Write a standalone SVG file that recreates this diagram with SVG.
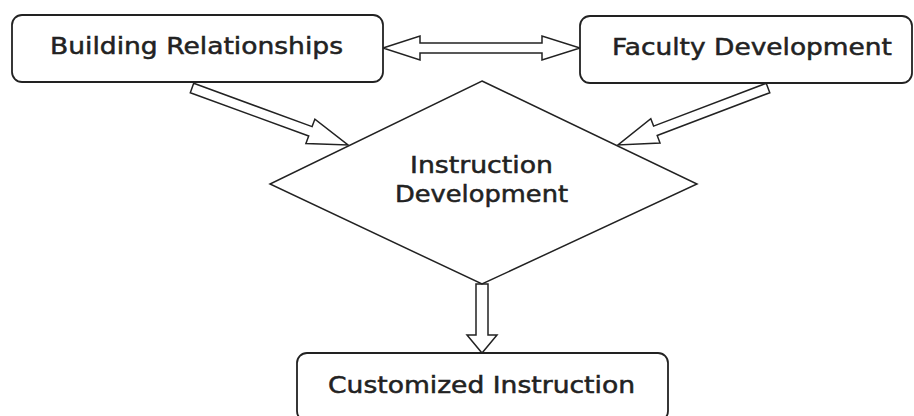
<svg xmlns="http://www.w3.org/2000/svg" width="914" height="416" viewBox="0 0 914 416">
<style>
.box{fill:#fff;stroke:#222;stroke-width:1.8}
.arr{fill:#fff;stroke:#222;stroke-width:1.5;stroke-linejoin:miter}
.lbl{font-family:"DejaVu Sans","Verdana",sans-serif;font-size:23px;fill:#222;stroke:#222;stroke-width:0.5;text-anchor:middle}
</style>
<rect width="914" height="416" fill="#fff"/>
<g id="connectors">
<polygon class="arr" points="383,48 420,36 420,43 542,43 542,36 580,48 542,60 542,53 420,53 420,60"/>
<polygon class="arr" points="193.7,83.3 312.1,126.6 314.9,119.1 348,145 305.9,143.5 308.7,136 190.3,92.7"/>
<polygon class="arr" points="766.2,83.3 653.6,126.1 650.8,118.7 618,145 660,143 657.2,135.5 769.8,92.7"/>
<polygon class="arr" points="476,284 488,284 488,335 497,335 482,353 467,335 476,335"/>
</g>
<g id="building-relationships">
<rect class="box" x="12" y="15" width="371" height="67" rx="10"/>
<text class="lbl" x="196.5" y="54" textLength="293" lengthAdjust="spacingAndGlyphs">Building Relationships</text>
</g>
<g id="faculty-development">
<rect class="box" x="580" y="16" width="332" height="67" rx="10"/>
<text class="lbl" x="752" y="55" textLength="280" lengthAdjust="spacingAndGlyphs">Faculty Development</text>
</g>
<g id="instruction-development">
<polygon class="arr" points="482,81 697,184 482,284 270,184"/>
<text class="lbl" x="481.5" y="173" textLength="143" lengthAdjust="spacingAndGlyphs">Instruction</text>
<text class="lbl" x="481.5" y="202" textLength="173" lengthAdjust="spacingAndGlyphs">Development</text>
</g>
<g id="customized-instruction">
<rect class="box" x="297" y="353" width="371" height="68" rx="10"/>
<text class="lbl" x="481.5" y="393" textLength="307" lengthAdjust="spacingAndGlyphs">Customized Instruction</text>
</g>
</svg>
